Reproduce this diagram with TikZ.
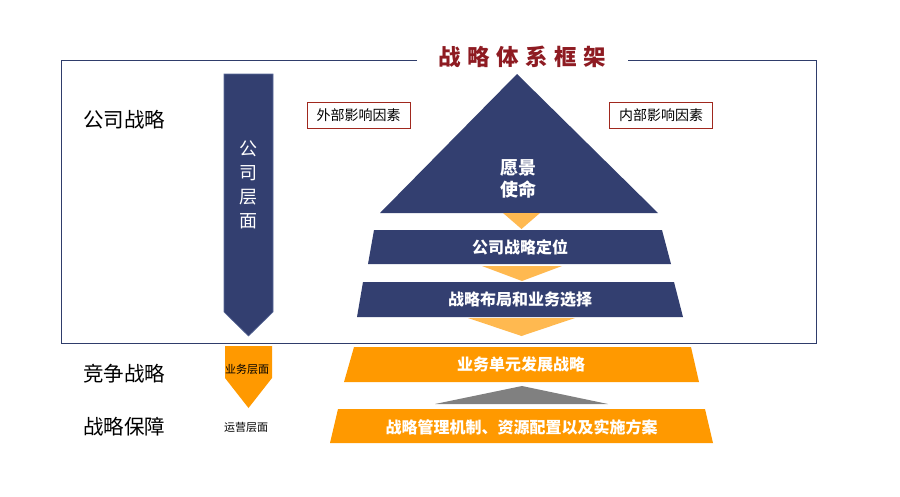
\documentclass[tikz,border=0pt]{standalone}
\usepackage{fontspec}
\setmainfont{Noto Sans CJK SC}
\definecolor{navy}{HTML}{333F70}
\definecolor{navyedge}{HTML}{5A6A98}
\definecolor{orng}{HTML}{FF9900}
\definecolor{lorng}{HTML}{FFB950}
\definecolor{grayarr}{HTML}{808080}
\definecolor{titlered}{HTML}{8E1B22}
\definecolor{boxred}{HTML}{A0281E}
\definecolor{framec}{HTML}{2F3D6B}
\tikzset{
  framel/.style={draw=framec, line width=1pt},
  navyshape/.style={fill=navy, draw=none},
  orngshape/.style={fill=orng, draw=none},
  lorngshape/.style={fill=lorng, draw=none},
  whitetxt/.style={text=white, font=\fontsize{16}{18}\selectfont\bfseries, inner sep=0pt},
  sidelabel/.style={text=black, font=\fontsize{20.5}{22}\selectfont, inner sep=0pt},
  factorbox/.style={draw=boxred, line width=0.8pt, fill=white, font=\fontsize{14}{16}\selectfont, minimum width=103pt, minimum height=26pt, inner sep=0pt},
  smalltxt/.style={text=black, font=\fontsize{11}{12}\selectfont, inner sep=0pt}
}
\begin{document}
\begin{tikzpicture}[x=1pt,y=-1pt]
\useasboundingbox (0,0) rectangle (900,496);
% frame
\draw[framel] (417,60) -- (61,60) -- (61,343) -- (816,343) -- (816,60) -- (628,60);
\node[text=titlered, font=\fontsize{22.5}{24}\selectfont\bfseries, inner sep=0pt] (title) at (522.5,57) {战\kern6.5pt略\kern6.5pt体\kern6.5pt系\kern6.5pt框\kern6.5pt架};
% side labels
\node[sidelabel] (l1) at (124,120) {公司战略};
\node[sidelabel] (l2) at (124,374) {竞争战略};
\node[sidelabel] (l3) at (124,427) {战略保障};
% left arrows
\path[navyshape, draw=navyedge, line width=0.6pt] (224,74) -- (273,74) -- (273,312) -- (248.5,336) -- (224,312) -- cycle;
\node[text=white, font=\fontsize{18}{24}\selectfont, align=center, inner sep=0pt] (compl) at (248.5,185) {公\\司\\层\\面};
\path[orngshape] (225,346) -- (272,346) -- (272,378) -- (248.5,408) -- (225,378) -- cycle;
\node[smalltxt] (bizl) at (247,369) {业务层面};
\node[smalltxt] (opl) at (246,427) {运营层面};
% factor boxes
\node[factorbox] (ext) at (358.5,115) {外部影响因素};
\node[factorbox] (int) at (661,115) {内部影响因素};
% pyramid
\path[navyshape] (517,74) -- (658,213) -- (380,213) -- cycle;
\node[whitetxt, font=\fontsize{18}{22}\selectfont\bfseries, align=center] (vision) at (518,179) {愿景\\使命};
\path[lorngshape] (503,213) -- (540,213) -- (521.5,229) -- cycle;
\path[navyshape] (374,230) -- (662,230) -- (671,264) -- (368,264) -- cycle;
\node[whitetxt] (pos) at (520,247) {公司战略定位};
\path[lorngshape] (482,266) -- (562,266) -- (522,281) -- cycle;
\path[navyshape] (363,282) -- (674,282) -- (683,317) -- (357,317) -- cycle;
\node[whitetxt] (layout) at (520,300) {战略布局和业务选择};
\path[lorngshape] (468,318) -- (575,318) -- (521.5,336) -- cycle;
\path[orngshape] (354,347) -- (691,347) -- (699,382) -- (344,382) -- cycle;
\node[whitetxt] (bu) at (521,364) {业务单元发展战略};
\path[fill=grayarr] (522,386) -- (608,404) -- (435,404) -- cycle;
\path[orngshape] (338,409) -- (705,409) -- (713,443) -- (330,443) -- cycle;
\node[whitetxt] (mgmt) at (521.5,427) {战略管理机制、资源配置以及实施方案};
\end{tikzpicture}
\end{document}
